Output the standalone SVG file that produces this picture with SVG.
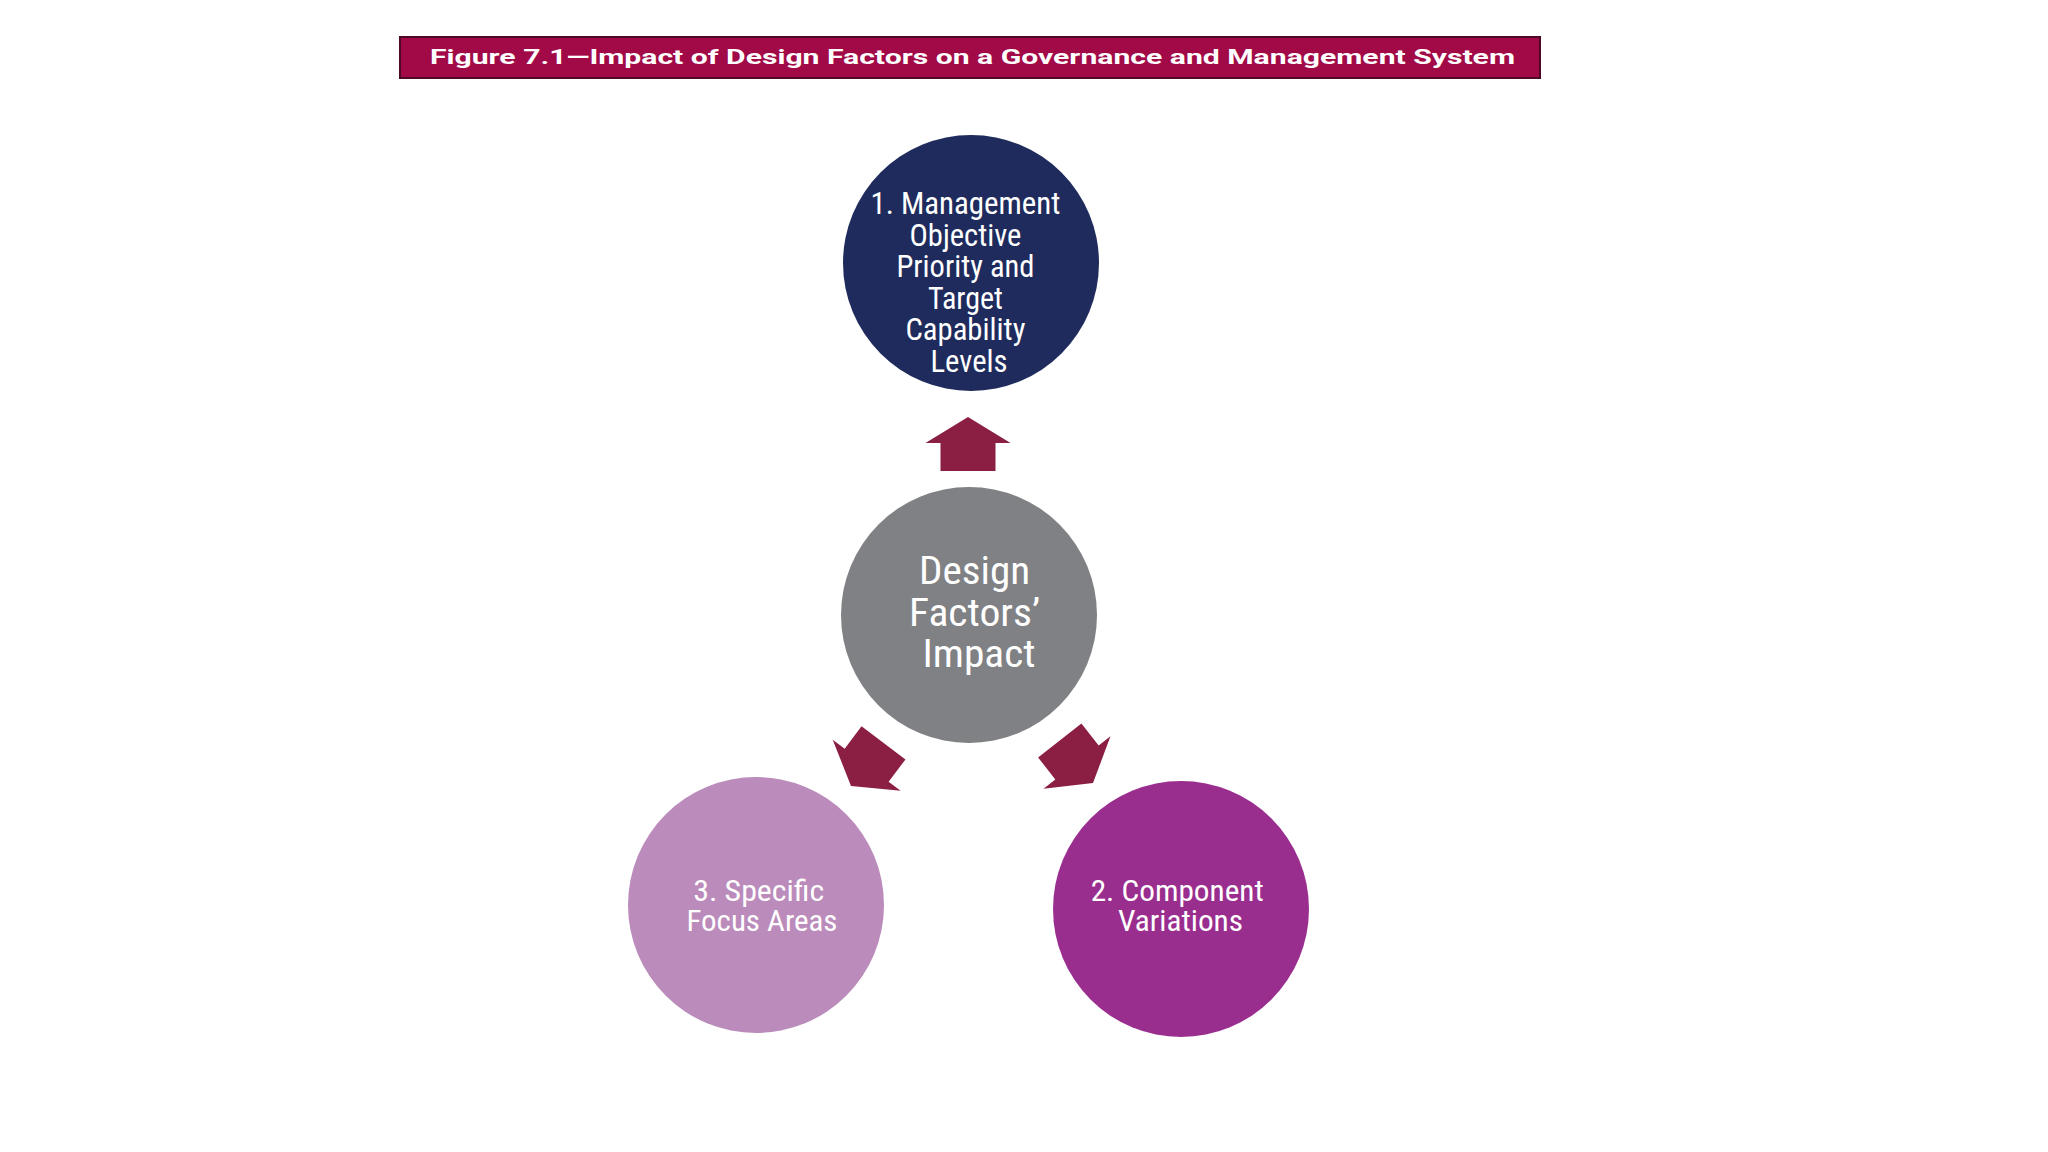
<svg xmlns="http://www.w3.org/2000/svg" width="2048" height="1152" viewBox="0 0 2048 1152">
  <style>
    .lbl { font-family: "Roboto Condensed", Roboto, "Liberation Sans", sans-serif; fill: #ffffff; text-anchor: middle; }
    .title { font-family: Roboto, "Liberation Sans", sans-serif; font-weight: bold; fill: #ffffff; font-size: 21px; }
    .arrow { fill: #8B1E43; }
  </style>
  <defs>
    <path id="house" d="M0,0 L42.5,26 L27.5,26 L27.5,54 L-27.5,54 L-27.5,26 L-42.5,26 Z"/>
  </defs>
  <rect width="2048" height="1152" fill="#ffffff"/>

  <g id="title">
    <rect x="400" y="37" width="1140" height="41" fill="#A10A47" stroke="#4E0A24" stroke-width="2"/>
    <text class="title" x="430" y="64" textLength="1085" lengthAdjust="spacingAndGlyphs">Figure 7.1—Impact of Design Factors on a Governance and Management System</text>
  </g>

  <g id="connectors">
    <use href="#house" class="arrow" transform="translate(968,417)"/>
    <use href="#house" class="arrow" transform="translate(851,786) rotate(-143)"/>
    <use href="#house" class="arrow" transform="translate(1093,783) rotate(142)"/>
  </g>

  <g id="node-objective">
    <circle cx="971" cy="263" r="128" fill="#1E2B5C"/>
    <text class="lbl" font-size="31">
      <tspan x="969" y="214" textLength="190" lengthAdjust="spacingAndGlyphs">1. Management</tspan>
      <tspan x="969" y="245.5" textLength="112" lengthAdjust="spacingAndGlyphs">Objective</tspan>
      <tspan x="969" y="277" textLength="138" lengthAdjust="spacingAndGlyphs">Priority and</tspan>
      <tspan x="969" y="308.5" textLength="75" lengthAdjust="spacingAndGlyphs">Target</tspan>
      <tspan x="969" y="340" textLength="120" lengthAdjust="spacingAndGlyphs">Capability</tspan>
      <tspan x="969" y="371.5" textLength="77" lengthAdjust="spacingAndGlyphs">Levels</tspan>
    </text>
  </g>

  <g id="node-design">
    <circle cx="969" cy="615" r="128" fill="#808184"/>
    <text class="lbl" font-size="38">
      <tspan x="979" y="584" textLength="111" lengthAdjust="spacingAndGlyphs">Design</tspan>
      <tspan x="979" y="626" textLength="131" lengthAdjust="spacingAndGlyphs">Factors’</tspan>
      <tspan x="979" y="667" textLength="113" lengthAdjust="spacingAndGlyphs">Impact</tspan>
    </text>
  </g>

  <g id="node-focus">
    <circle cx="756" cy="905" r="128" fill="#BB8BBB"/>
    <text class="lbl" font-size="29">
      <tspan x="762" y="901" textLength="131" lengthAdjust="spacingAndGlyphs">3. Specific</tspan>
      <tspan x="762" y="931" textLength="151" lengthAdjust="spacingAndGlyphs">Focus Areas</tspan>
    </text>
  </g>

  <g id="node-component">
    <circle cx="1181" cy="909" r="128" fill="#9A2E8F"/>
    <text class="lbl" font-size="29">
      <tspan x="1180.5" y="901" textLength="173" lengthAdjust="spacingAndGlyphs">2. Component</tspan>
      <tspan x="1180.5" y="931" textLength="125" lengthAdjust="spacingAndGlyphs">Variations</tspan>
    </text>
  </g>
</svg>
